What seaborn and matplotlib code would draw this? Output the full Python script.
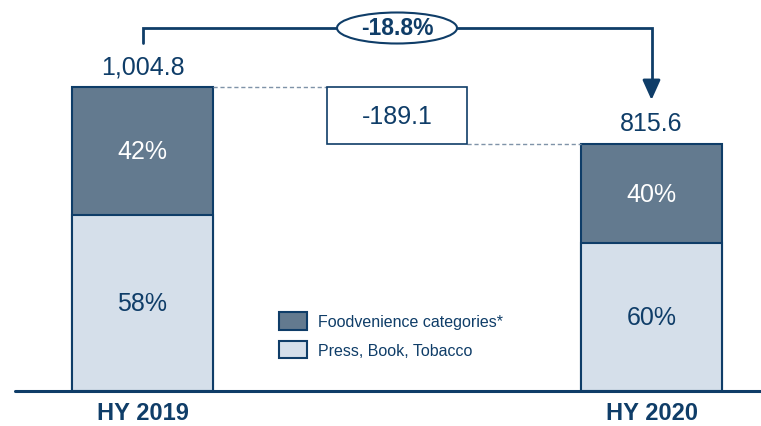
import matplotlib
matplotlib.use("Agg")
import matplotlib.pyplot as plt
import seaborn as sns
import pandas as pd
from matplotlib.patches import Patch, Ellipse
from matplotlib import font_manager

# ---- data ----
periods = ["HY 2019", "HY 2020"]
totals = [1004.8, 815.6]
foodvenience_pct = [42, 40]
press_pct = [58, 60]
change_abs = -189.1
change_pct = -18.8
series_names = ["Foodvenience categories*", "Press, Book, Tobacco"]
total_labels = ["1,004.8", "815.6"]

NAVY = "#0f3d68"
DARK = "#637a8f"
LIGHT = "#d5dfea"
DASH = "#7f93a8"

sns.set_theme(style="white")
names = {f.name for f in font_manager.fontManager.ttflist}
narrow = "Liberation Sans Narrow" if "Liberation Sans Narrow" in names else "Liberation Sans"
plt.rcParams["font.family"] = [narrow, "DejaVu Sans"]

order = ["HY 2019", "change", "HY 2020"]
df = pd.DataFrame({
    "period": periods,
    "total": totals,
    "press": [t * p / 100 for t, p in zip(totals, press_pct)],
})

fig = plt.figure(figsize=(7.61, 4.27), dpi=100)
ax = fig.add_axes([0, 0, 1, 1])
W = 0.554

sns.barplot(data=df, x="period", y="total", order=order, color=DARK,
            width=W, edgecolor=NAVY, linewidth=1.5, saturation=1, ax=ax)
sns.barplot(data=df, x="period", y="press", order=order, color=LIGHT,
            width=W, edgecolor=NAVY, linewidth=1.5, saturation=1, ax=ax)

# floating change box
ax.bar(1, change_abs, bottom=totals[0], width=W, color="white",
       edgecolor=NAVY, linewidth=1.2, zorder=3)
ax.text(1, totals[0] + change_abs / 2, f"{change_abs:.1f}", ha="center",
        va="center", fontsize=18, color=NAVY)

# dashed connectors
ax.plot([0 + W / 2, 1 - W / 2], [totals[0]] * 2, ls=(0, (3, 2)), color=DASH, lw=1)
ax.plot([1 + W / 2, 2 - W / 2], [totals[1]] * 2, ls=(0, (3, 2)), color=DASH, lw=1)

# labels on bars
xs = [0, 2]
for x, tot, fp, pp, lab in zip(xs, totals, foodvenience_pct, press_pct, total_labels):
    press_h = tot * pp / 100
    ax.text(x, press_h / 2, f"{pp}%", ha="center", va="center",
            fontsize=18, color=NAVY)
    ax.text(x, press_h + (tot - press_h) / 2, f"{fp}%", ha="center",
            va="center", fontsize=18, color="white")
    ax.annotate(lab, (x, tot), xytext=(0, 15), textcoords="offset points",
                ha="center", va="center", fontsize=18, color=NAVY)

# bracket with arrow
ytop = 1200
ax.plot([0, 0, 2, 2], [1150, ytop, ytop, 1000], color=NAVY, lw=2,
        solid_joinstyle="miter", zorder=4)
ax.annotate("", xy=(2, 962), xytext=(2, 1010),
            arrowprops=dict(arrowstyle="-|>,head_length=1.0,head_width=0.45",
                            color=NAVY, lw=2, shrinkA=0, shrinkB=0), zorder=5)
ell = Ellipse((1.0, ytop), width=120 / 254.5, height=31 / 0.3025,
              facecolor="white", edgecolor=NAVY, lw=1.5, zorder=6)
ax.add_patch(ell)
ax.text(1.0, ytop, f"{change_pct:.1f}%", ha="center", va="center",
        fontsize=16.5, fontweight="bold", color=NAVY, zorder=7)

# baseline
ax.plot([-0.50, 3], [0, 0], color=NAVY, lw=2.2, zorder=5, clip_on=False)

# axis cosmetics
ax.set_xlim(-142.5 / 254.5, (761 - 142.5) / 254.5)
ax.set_ylim(-35 / 0.3025, 392 / 0.3025)
ax.set_xticks([0, 2])
ax.set_xticklabels(periods, fontsize=17, fontweight="bold", color=NAVY)
ax.tick_params(axis="x", length=0, pad=-18)
ax.set_yticks([])
ax.set_xlabel("")
ax.set_ylabel("")
for s in ax.spines.values():
    s.set_visible(False)
ax.patch.set_alpha(0)

handles = [Patch(facecolor=DARK, edgecolor=NAVY, lw=1.5),
           Patch(facecolor=LIGHT, edgecolor=NAVY, lw=1.5)]
leg = ax.legend(handles, series_names, loc="upper left",
                bbox_to_anchor=(265 / 761, 1 - 299 / 427), frameon=False,
                prop={"family": ["Liberation Sans", "DejaVu Sans"], "size": 11.5},
                handlelength=1.7, handleheight=1.3, handletextpad=0.7,
                labelspacing=0.7)
for t in leg.get_texts():
    t.set_color(NAVY)

fig.savefig("out.png", dpi=100)
